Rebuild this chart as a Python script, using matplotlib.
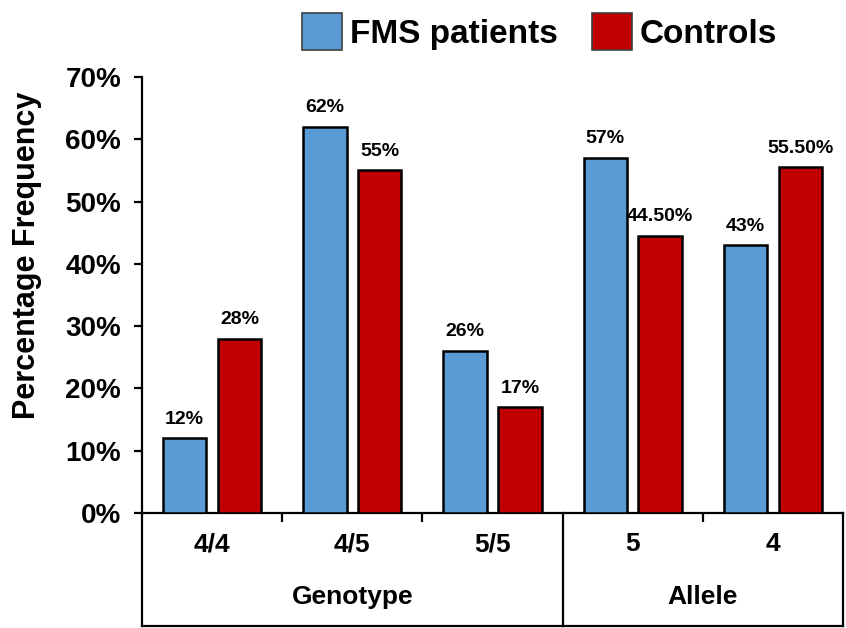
import matplotlib
matplotlib.use("Agg")
import matplotlib.pyplot as plt
import matplotlib.transforms as mtransforms
from matplotlib.patches import Patch
import numpy as np

plt.rcParams['font.family'] = ['Liberation Sans', 'DejaVu Sans']
plt.rcParams['font.weight'] = 'bold'

# datos
categorias = ["4/4", "4/5", "5/5", "5", "4"]
grupos = ["Genotype", "Allele"]
grupo_centros = [1.0, 3.5]
fms = [0.12, 0.62, 0.26, 0.57, 0.43]
controles = [0.28, 0.55, 0.17, 0.445, 0.555]
etiquetas_fms = ["12%", "62%", "26%", "57%", "43%"]
etiquetas_ctrl = ["28%", "55%", "17%", "44.50%", "55.50%"]

AZUL = "#5B9BD5"
ROJO = "#C00000"

fig = plt.figure(figsize=(8.46, 6.28), dpi=100)
ax = fig.add_axes([0.1678, 0.1831, 0.8287, 0.6943])

x = np.arange(len(categorias))
w = 0.31
off = 0.195
b1 = ax.bar(x - off, fms, w, color=AZUL, edgecolor="black", linewidth=1.8, zorder=3)
b2 = ax.bar(x + off, controles, w, color=ROJO, edgecolor="black", linewidth=1.8, zorder=3)

for barras, etiquetas in ((b1, etiquetas_fms), (b2, etiquetas_ctrl)):
    for b, txt in zip(barras, etiquetas):
        ax.annotate(txt, (b.get_x() + b.get_width() / 2, b.get_height()),
                    xytext=(0, 10.5), textcoords="offset points",
                    ha="center", va="baseline", fontsize=14, fontweight="bold")

ax.set_xlim(-0.5, 4.5)
ax.set_ylim(0, 0.7)
ax.set_yticks(np.arange(0, 0.71, 0.1))
ax.set_yticklabels([f"{int(round(v * 100))}%" for v in np.arange(0, 0.71, 0.1)])
ax.tick_params(axis="y", direction="out", length=6, width=1.6, pad=9, labelsize=20)

ax.set_xticks(x)
ax.set_xticklabels(categorias)
ax.tick_params(axis="x", which="major", length=0, pad=14, labelsize=19)
ax.set_xticks([0.5, 1.5, 3.5], minor=True)
ax.tick_params(axis="x", which="minor", direction="out", length=6.5, width=1.6)

for s in ("top", "right"):
    ax.spines[s].set_visible(False)
for s in ("left", "bottom"):
    ax.spines[s].set_linewidth(1.6)

# tabla de grupos bajo el eje
tr = mtransforms.blended_transform_factory(ax.transData, ax.transAxes)
fondo = -0.259
for xv in (-0.5, 2.5, 4.5):
    ax.plot([xv, xv], [0, fondo], transform=tr, color="black", lw=1.6, clip_on=False)
ax.plot([-0.5, 4.5], [fondo, fondo], transform=tr, color="black", lw=1.6, clip_on=False)
for g, cx in zip(grupos, grupo_centros):
    ax.text(cx, -0.193, g, transform=tr, ha="center", va="center", fontsize=19, fontweight="bold")

fig.text(27 / 846, 1 - 255 / 628, "Percentage Frequency", rotation=90,
         ha="center", va="center", fontsize=22, fontweight="bold")

handles = [Patch(facecolor=AZUL, edgecolor="#404040", linewidth=1.2, label="FMS patients"),
           Patch(facecolor=ROJO, edgecolor="#404040", linewidth=1.2, label="Controls")]
fig.legend(handles=handles, loc="upper center", bbox_to_anchor=(0.638, 1.0), ncol=2,
           frameon=False, handlelength=1.2, handleheight=1.3,
           handletextpad=0.25, columnspacing=1.0, borderaxespad=0.0,
           prop={"size": 24, "weight": "bold"})

fig.savefig("out.png", dpi=100)
